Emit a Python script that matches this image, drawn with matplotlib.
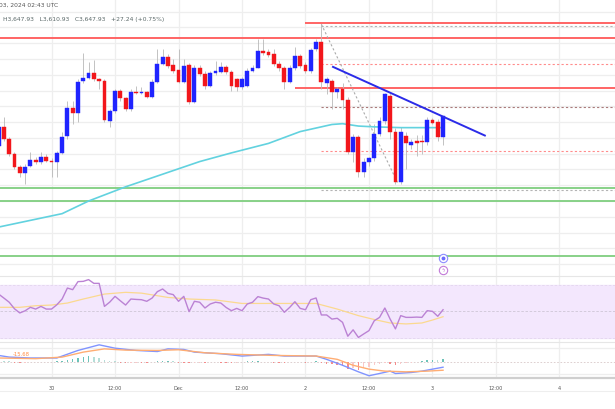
import matplotlib
matplotlib.use("Agg")
import matplotlib.pyplot as plt
from matplotlib.transforms import blended_transform_factory

# hourly ETH/USD candles, Nov 29 14:00 -> Dec 3 02:00 UTC
opens = [3610, 3634, 3619, 3600, 3583, 3575, 3585, 3592, 3590, 3596,
         3591, 3590, 3601, 3623, 3658, 3652, 3692, 3696, 3702, 3694,
         3692, 3642, 3654, 3680, 3670, 3656, 3678, 3677, 3678, 3672,
         3691, 3714, 3723, 3713, 3706, 3691, 3713, 3666, 3708, 3701,
         3686, 3702, 3704, 3710, 3704, 3694, 3685, 3686, 3705, 3709,
         3730, 3729, 3726, 3714, 3709, 3691, 3708, 3724, 3713, 3705,
         3733, 3742, 3690, 3692, 3678, 3682, 3668, 3602, 3621, 3577,
         3589, 3594, 3625, 3642, 3673, 3628, 3564, 3623, 3611, 3616,
         3616, 3615, 3643, 3640, 3620.69]
highs = [3642, 3647, 3621, 3602, 3586, 3587, 3602, 3596, 3602, 3600,
         3594, 3604, 3628, 3667, 3667, 3695, 3728, 3716, 3719, 3696,
         3694, 3657, 3682, 3682, 3672, 3682, 3686, 3685, 3680, 3695,
         3733, 3733, 3726, 3720, 3733, 3720, 3715, 3713, 3713, 3705,
         3705, 3718, 3716, 3713, 3706, 3696, 3697, 3708, 3713, 3745,
         3745, 3733, 3733, 3718, 3711, 3713, 3735, 3726, 3716, 3734,
         3745, 3764, 3697, 3695, 3685, 3689, 3672, 3625, 3624, 3594,
         3596, 3638, 3647, 3677, 3677, 3632, 3634, 3628, 3619, 3624,
         3624, 3647, 3645, 3644, 3647.93]
lows = [3606, 3616, 3597, 3581, 3571, 3562, 3583, 3587, 3587, 3590,
        3571, 3571, 3599, 3619, 3638, 3640, 3690, 3695, 3692, 3682,
        3640, 3634, 3652, 3667, 3654, 3654, 3676, 3676, 3670, 3670,
        3689, 3713, 3708, 3702, 3689, 3690, 3663, 3664, 3699, 3682,
        3685, 3700, 3702, 3701, 3680, 3680, 3682, 3685, 3704, 3708,
        3725, 3723, 3711, 3705, 3682, 3689, 3706, 3708, 3702, 3702,
        3730, 3682, 3676, 3657, 3670, 3657, 3600, 3590, 3571, 3571,
        3585, 3591, 3623, 3638, 3619, 3562, 3562, 3581, 3606, 3597,
        3600, 3611, 3637, 3616, 3610.93]
closes = [3634, 3619, 3600, 3583, 3575, 3583, 3592, 3590, 3596, 3591,
          3590, 3601, 3621, 3658, 3652, 3691, 3696, 3702, 3694, 3692,
          3643, 3654, 3680, 3670, 3656, 3678, 3677, 3678, 3672, 3691,
          3714, 3723, 3711, 3705, 3691, 3711, 3666, 3708, 3701, 3686,
          3702, 3705, 3710, 3704, 3686, 3685, 3694, 3705, 3709, 3730,
          3728, 3725, 3714, 3709, 3691, 3709, 3724, 3711, 3705, 3732,
          3742, 3691, 3695, 3678, 3682, 3668, 3602, 3621, 3577, 3589,
          3594, 3625, 3642, 3676, 3628, 3564, 3628, 3613, 3615, 3614,
          3615, 3643, 3639, 3621, 3647.93]

# moving average (cyan) read at a few candles
ma_idx = [0, 12, 17, 24, 38, 44, 51, 57, 63, 65, 68, 71, 76, 82, 84]
ma_val = [3507, 3524, 3540, 3558, 3590, 3601, 3613, 3628, 3637, 3638,
          3635, 3634, 3633, 3633, 3633]

# levels
res_full = 3747
res_partial = [3765, 3683]
res_partial_from = [58, 56]
supports = [3556, 3540, 3470]
fib_levels = [3762, 3714, 3659, 3604, 3554]
fib_colors = ["#b4b4b4", "#ff8c8c", "#a97a7a", "#ff8c8c", "#b4b4b4"]
fib_from = 61
swing_idx = [61, 75.5]
swing_px = [3764, 3562]
trend_idx = [63.2, 91.9]
trend_px = [3710, 3623]

# RSI 14 and its moving average
rsi = [63.0, 60.0, 56.9, 52.0, 48.9, 50.5, 53.1, 51.8, 53.8, 51.8,
       51.8, 55.0, 59.3, 67.5, 66.3, 72.3, 72.5, 73.8, 71.0, 71.0,
       53.8, 57.0, 61.3, 58.0, 54.8, 59.3, 59.0, 58.8, 57.6, 60.0,
       64.8, 66.8, 63.5, 62.6, 57.6, 61.3, 49.9, 57.6, 56.9, 52.6,
       55.6, 56.9, 56.3, 53.0, 50.6, 52.3, 50.6, 55.6, 56.9, 61.1,
       60.0, 59.3, 55.6, 54.3, 49.4, 53.0, 57.3, 52.3, 51.3, 58.8,
       60.1, 47.4, 47.4, 44.3, 44.9, 41.9, 31.5, 36.3, 30.6, 33.2,
       35.7, 43.1, 45.6, 52.6, 44.3, 37.0, 46.9, 45.6, 45.6, 45.8,
       45.6, 50.6, 50.1, 46.4, 51.3]
rsi_ma_idx = [0, 4, 7, 10, 13, 16, 20, 24, 27, 32, 36, 41, 46, 50, 56, 60,
              64, 68, 71, 74, 77, 80, 82, 84]
rsi_ma = [53.1, 53.1, 54.3, 54.8, 56.3, 59.3, 63.0, 64.3, 63.7, 60.5, 59.3,
          58.6, 56.0, 56.0, 56.0, 56.0, 51.8, 46.9, 44.0, 41.4, 40.7, 41.4,
          43.6, 46.1]

# MACD
macd_idx = [0, 2, 6, 11, 15, 19, 22, 26, 30, 32, 35, 37, 42, 46, 51, 54, 60,
            62, 65, 68, 70, 72, 74, 75, 78, 80, 82, 84]
macd = [12.6, 9.4, 7.7, 7.7, 22.1, 32.8, 26.4, 22.1, 20.0, 25.1, 24.0, 18.9,
        15.8, 11.4, 14.6, 11.4, 11.4, 5.1, -6.2, -18.7, -26.2, -21.9, -17.4,
        -21.9, -20.0, -17.4, -13.6, -9.9]
signal_idx = [0, 7, 12, 16, 20, 24, 30, 34, 39, 45, 52, 60, 64, 67, 70, 73,
              77, 81, 84]
signal = [7.7, 6.4, 9.4, 18.9, 25.1, 22.7, 22.1, 23.4, 17.6, 14.6, 12.6, 11.4,
          5.1, -6.2, -13.6, -17.4, -18.7, -17.4, -15.68]
hist = [3, 2, 1, -1, -1.5, -1, -0.5, -0.5, -0.5, -0.5,
        0.5, 1, 2, 4, 6, 8, 10, 11, 9, 7,
        3, 2, 1, -1, -2, -1.5, -1, -1, -1, -0.5,
        1, 2, 2, 1, -1, -1, -2, -1.5, -1, -1,
        -0.5, -0.5, -1, -1, -1.5, -1, 0.5, 1, 1, 1,
        0.5, -0.5, -1, -1, -1, -0.5, 0.5, -0.5, -1, 0.5,
        1, -2, -3, -4, -5, -8, -13, -11, -15, -12,
        -10, -6, -3, -1, -3, -6, -3, -2, -1, 0.5,
        1, 3, 4, 3, 5]

tick_idx = [10, 22, 34, 46, 58, 70, 82, 94, 106]
tick_lab = ["30", "12:00", "Dec", "12:00", "2", "12:00", "3", "12:00", "4"]

UP = "#1f24ff"
DOWN = "#f2161b"
GRID = "#eeeeee"
XLIM = (0.26, 116.5)

fig = plt.figure(figsize=(6.15, 4.1), dpi=100)
ax = fig.add_axes([0, 1 - 277 / 410, 1, 277 / 410])
ax_rsi = fig.add_axes([0, 1 - 343 / 410, 1, 66 / 410])
ax_macd = fig.add_axes([0, 1 - 379 / 410, 1, 36 / 410])

for a in (ax, ax_rsi, ax_macd):
    a.set_xlim(*XLIM)
    for s in a.spines.values():
        s.set_visible(False)
    a.tick_params(left=False, labelleft=False, bottom=False, labelbottom=False)
    for t in tick_idx:
        a.axvline(t, color=GRID, lw=0.9, zorder=0)

# ---- price pane
ax.set_ylim(3445, 3796)
for p in range(3460, 3800, 20):
    ax.axhline(p, color=GRID, lw=0.9, zorder=0)

n = len(closes)
xs = list(range(n))
ax.vlines(xs, lows, highs, color="#b8b8b8", lw=0.6, zorder=2)
bottoms = [min(o, c) for o, c in zip(opens, closes)]
heights = [max(abs(c - o), 1.3) for o, c in zip(opens, closes)]
cols = [UP if c >= o else DOWN for o, c in zip(opens, closes)]
ax.bar(xs, heights, bottom=bottoms, width=0.72, color=cols, edgecolor=cols,
       lw=0.3, zorder=3)

ax.plot(ma_idx, ma_val, color="#62d2df", lw=1.2, zorder=2)

ax.axhline(res_full, color="#ff6464", lw=1.4, zorder=1)
for lvl, start in zip(res_partial, res_partial_from):
    ax.hlines(lvl, start, XLIM[1], color="#ff6464", lw=1.4, zorder=1)
for g in supports:
    ax.axhline(g, color="#7fce7f", lw=1.3, zorder=1)
for lvl, c in zip(fib_levels, fib_colors):
    ax.hlines(lvl, fib_from, XLIM[1], color=c, lw=0.8, linestyles=(0, (2, 2)),
              zorder=1)
ax.plot(swing_idx, swing_px, color="#aaaaaa", lw=0.8, ls=(0, (2, 2)), zorder=1)
ax.plot(trend_idx, trend_px, color="#2b2be8", lw=1.4, zorder=4)

# event markers under the last candle
tr = blended_transform_factory(ax.transData, ax.transAxes)
ax.plot([n - 1], [1 - 259 / 277], marker="o", ms=6, mfc="white",
        mec="#8c8cff", mew=0.8, transform=tr, zorder=5)
ax.plot([n - 1], [1 - 259 / 277], marker="o", ms=1.8, color="#6c6cff",
        transform=tr, zorder=6)
ax.plot([n - 1], [1 - 271 / 277], marker="o", ms=6, mfc="white",
        mec="#c27ad8", mew=0.8, transform=tr, zorder=5)
ax.text(n - 1, 1 - 271 / 277, "ϟ", color="#b25ccc", fontsize=3.5,
        ha="center", va="center", transform=tr, zorder=6)

# ---- RSI pane
ax_rsi.set_ylim(27.2, 76.5)
ax_rsi.axhspan(30, 70, color="#f3e7fd", zorder=0)
ax_rsi.axhline(70, color="#e3d6ee", lw=0.6, ls=(0, (3, 2)))
ax_rsi.axhline(30, color="#e3d6ee", lw=0.6, ls=(0, (3, 2)))
ax_rsi.axhline(50, color="#cfc6d6", lw=0.6, ls=(0, (3, 2)))
ax_rsi.plot(xs, rsi, color="#bb82d4", lw=1.0, zorder=3)
ax_rsi.plot(rsi_ma_idx, rsi_ma, color="#fbd98f", lw=0.9, zorder=2)
ax_rsi.spines["top"].set_visible(True)
ax_rsi.spines["top"].set_color("#e6e6e6")

# ---- MACD pane
ax_macd.set_ylim(-30.5, 38.2)
for g in (26, -23):
    ax_macd.axhline(g, color=GRID, lw=0.9, zorder=0)
ax_macd.axhline(0, color="#d8c8c8", lw=0.6, ls=(0, (2, 2)), zorder=1)
hcols = []
for i, h in enumerate(hist):
    prev = hist[i - 1] if i else h
    if h >= 0:
        hcols.append("#6cc3b8" if h >= prev else "#b5ded8")
    else:
        hcols.append("#f58a8a" if h <= prev else "#f9c9c9")
ax_macd.bar(xs, hist, width=0.28, color=hcols, zorder=2)
ax_macd.plot(macd_idx, macd, color="#8094ff", lw=1.0, zorder=3)
ax_macd.plot(signal_idx, signal, color="#ffad73", lw=1.0, zorder=3)
ax_macd.spines["top"].set_visible(True)
ax_macd.spines["top"].set_color("#e6e6e6")
ax_macd.spines["bottom"].set_visible(True)
ax_macd.spines["bottom"].set_color("#cfcfcf")
ax_macd.spines["bottom"].set_linewidth(1.6)
ax_macd.set_xticks(tick_idx)
ax_macd.set_xticklabels(tick_lab)
ax_macd.tick_params(labelbottom=True, labelsize=3.6, labelcolor="#555555",
                    pad=1.2)
ax_macd.text(0.02, 0.68, f"{signal[-1]:.2f}", transform=ax_macd.transAxes,
             color="#ff8c42", fontsize=3.8, va="center")

fig.add_artist(plt.Line2D([0, 1], [1 - 392 / 410] * 2, color="#eeeeee", lw=0.8))

# ---- header
chg = closes[-1] - opens[-1]
fig.text(-0.002, 1 - 5 / 410, "03, 2024 02:43 UTC", fontsize=4.3,
         color="#555555", va="center")
fig.text(0.005, 1 - 20 / 410,
         f"H{highs[-1]:,.2f}   L{lows[-1]:,.2f}   C{closes[-1]:,.2f}   "
         f"{chg:+.2f} ({chg / opens[-1] * 100:+.2f}%)",
         fontsize=4.3, color="#5a6868", va="center")

fig.savefig("out.png", dpi=100, facecolor="white")
